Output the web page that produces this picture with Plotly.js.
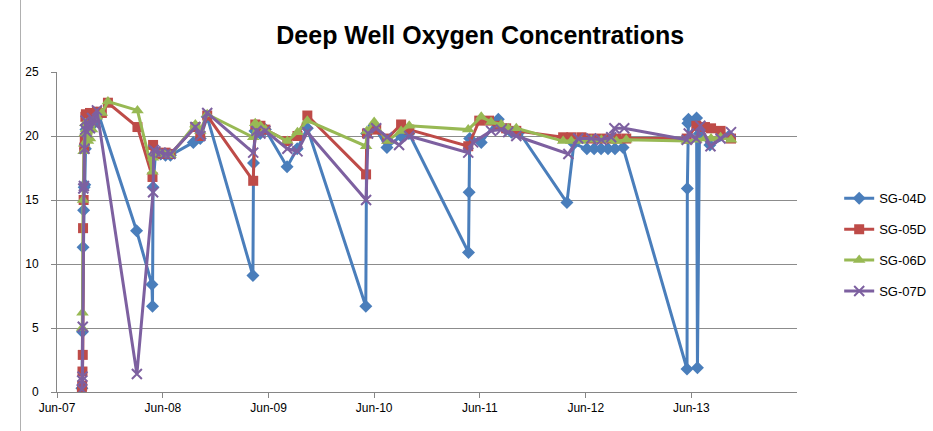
<!DOCTYPE html>
<html>
<head>
<meta charset="utf-8">
<script src="https://cdn.plot.ly/plotly-3.0.1.min.js"></script>
<style>
html,body{margin:0;padding:0;background:#fff;}
#wrap{position:relative;width:933px;height:431px;}
#chart{width:933px;height:431px;}
#edge{position:absolute;left:20px;top:0;width:0;height:431px;border-left:1px solid #b0b0b0;pointer-events:none;}
</style>
</head>
<body>
<div id="wrap"><div id="chart"></div><div id="edge"></div></div>
<script>
// ---- data ----
const sg04Dates = ["2007-08-26","2007-08-28","2007-08-30","2007-09-01","2007-09-03","2007-09-05","2007-09-07","2007-09-09","2007-09-16","2007-09-23","2007-09-30","2007-10-07","2007-10-17","2007-10-24","2008-03-02","2008-04-24","2008-04-26","2008-04-28","2008-05-06","2008-05-24","2008-06-10","2008-06-27","2008-09-14","2008-10-08","2008-11-01","2009-04-08","2009-04-10","2009-04-15","2009-05-03","2009-05-21","2009-08-04","2009-09-08","2009-10-13","2010-05-03","2010-05-06","2010-05-31","2010-07-15","2010-09-01","2010-09-29","2011-04-23","2011-04-25","2011-04-27","2011-06-06","2011-08-04","2011-08-31","2011-09-18","2011-10-15","2012-03-28","2012-04-21","2012-06-05","2012-06-30","2012-07-24","2012-08-17","2012-09-10","2012-10-08","2013-05-17","2013-05-18","2013-05-20","2013-05-22","2013-06-19","2013-06-22","2013-06-29","2013-08-04","2013-10-09"];
const sg04Values = [0.3,4.7,11.3,14.2,16.0,16.2,19.0,20.5,21.2,20.8,21.5,21.0,21.8,21.6,12.6,8.4,6.7,16.0,18.6,18.6,18.5,18.5,19.5,19.8,21.5,9.1,17.9,20.4,20.2,20.5,17.6,19.0,20.6,6.7,20.2,20.8,19.1,20.0,20.2,10.9,15.6,19.8,19.5,21.3,20.5,20.3,20.3,14.8,19.4,19.0,19.0,19.0,19.0,19.0,19.1,1.8,15.9,21.0,21.3,21.4,1.9,20.2,19.3,20.0];

const sg05Dates = ["2007-08-26","2007-08-27","2007-08-28","2007-08-29","2007-08-30","2007-09-01","2007-09-03","2007-09-05","2007-09-07","2007-09-09","2007-09-16","2007-09-23","2007-09-30","2007-10-17","2007-11-03","2007-11-24","2008-03-05","2008-04-26","2008-04-28","2008-05-06","2008-05-24","2008-06-10","2008-06-27","2008-09-21","2008-10-08","2008-11-01","2009-04-09","2009-04-16","2009-05-04","2009-05-21","2009-08-05","2009-09-09","2009-10-13","2010-05-04","2010-05-07","2010-06-08","2010-07-16","2010-09-02","2010-09-30","2011-04-22","2011-05-30","2011-07-03","2011-08-04","2011-08-31","2011-10-05","2012-03-15","2012-04-12","2012-05-17","2012-06-20","2012-07-25","2012-08-28","2012-09-15","2012-10-19","2013-05-16","2013-06-18","2013-07-18","2013-08-08","2013-09-10","2013-10-16"];
const sg05Values = [0.0,0.5,1.6,2.9,12.8,15.0,19.1,19.6,21.5,21.7,21.3,21.8,21.6,21.9,21.8,22.6,20.7,16.8,19.3,18.7,18.6,18.7,18.6,20.7,20.0,21.6,16.5,20.9,20.8,20.5,19.6,20.0,21.6,17.0,20.2,20.5,19.8,20.9,20.5,19.2,21.2,21.2,20.8,20.6,20.4,19.9,19.9,19.9,19.8,19.8,19.8,19.8,19.8,19.8,20.8,20.7,20.6,20.4,19.8];

const sg06Dates = ["2007-08-27","2007-08-28","2007-08-30","2007-09-01","2007-09-03","2007-09-05","2007-09-07","2007-09-09","2007-09-16","2007-09-23","2007-09-30","2007-10-17","2007-11-03","2007-11-24","2008-03-05","2008-04-26","2008-04-28","2008-05-06","2008-05-24","2008-06-10","2008-06-27","2008-09-21","2008-10-08","2008-11-01","2009-04-09","2009-04-16","2009-05-04","2009-05-21","2009-08-05","2009-09-09","2009-10-13","2010-05-04","2010-05-07","2010-06-01","2010-07-16","2010-09-02","2010-09-30","2011-04-22","2011-06-06","2011-07-10","2011-08-14","2011-09-07","2011-10-05","2012-03-15","2012-04-12","2012-05-17","2012-06-20","2012-07-25","2012-08-28","2012-09-15","2012-10-19","2013-05-16","2013-06-18","2013-07-18","2013-08-08","2013-09-10","2013-10-16"];
const sg06Values = [5.0,6.2,15.0,18.8,19.4,20.2,21.0,20.5,19.6,19.8,20.5,21.5,21.8,22.7,22.0,17.2,18.3,18.7,18.6,18.6,18.5,20.9,20.4,21.7,19.9,21.0,20.8,20.5,19.6,20.3,21.2,19.2,20.4,21.1,19.6,20.4,20.8,20.5,21.5,21.1,20.9,20.6,20.6,19.6,19.6,19.6,19.7,19.7,19.7,19.6,19.7,19.6,19.7,19.8,19.8,19.9,19.7];

const sg07Dates = ["2007-08-26","2007-08-27","2007-08-28","2007-08-29","2007-08-31","2007-09-02","2007-09-04","2007-09-06","2007-09-08","2007-09-12","2007-09-16","2007-09-23","2007-09-30","2007-10-07","2007-10-17","2008-03-03","2008-04-28","2008-04-30","2008-05-06","2008-05-24","2008-06-10","2008-06-27","2008-09-21","2008-10-08","2008-11-01","2009-04-09","2009-04-20","2009-05-04","2009-05-21","2009-08-05","2009-09-09","2009-10-13","2010-05-04","2010-05-11","2010-06-08","2010-07-16","2010-08-26","2010-09-30","2011-04-22","2011-05-09","2011-07-10","2011-08-14","2011-09-07","2011-10-05","2012-04-02","2012-05-06","2012-06-20","2012-07-25","2012-08-28","2012-09-08","2012-10-12","2013-05-16","2013-05-23","2013-06-18","2013-07-02","2013-08-06","2013-09-10","2013-10-16"];
const sg07Values = [0.2,0.9,1.2,5.1,15.9,16.1,19.0,20.5,21.2,20.3,21.0,20.6,21.4,21.0,22.0,1.4,15.6,18.9,18.8,18.7,18.6,18.6,20.7,20.0,21.8,18.7,20.4,20.2,20.4,19.0,18.8,20.3,15.0,20.2,20.6,19.9,19.3,20.0,18.7,19.5,20.4,20.5,20.3,20.0,18.6,19.8,19.8,19.7,19.9,20.6,20.6,19.7,20.2,19.8,20.8,19.2,19.8,20.3];

const seriesNames = ["SG-04D","SG-05D","SG-06D","SG-07D"];
const xTickVals = ["2007-06-01","2008-06-01","2009-06-01","2010-06-01","2011-06-01","2012-06-01","2013-06-01"];
const xTickText = ["Jun-07","Jun-08","Jun-09","Jun-10","Jun-11","Jun-12","Jun-13"];
const yTickVals = [0,5,10,15,20,25];
const chartTitle = "Deep Well Oxygen Concentrations";

// ---- styles ----
const colors = ["#4a7ebb","#be4b48","#98b954","#7d60a0"];
const symbols = ["diamond","square","triangle-up","x-thin"];
const sizes = [10,10,11,10];
const allDates = [sg04Dates, sg05Dates, sg06Dates, sg07Dates];
const allValues = [sg04Values, sg05Values, sg06Values, sg07Values];

const traces = seriesNames.map((n,i)=>({
  type:"scatter", mode:"lines+markers", name:n,
  x: allDates[i], y: allValues[i],
  legendgroup: "g"+i,
  line:{color:colors[i], width:3},
  marker:{symbol:symbols[i], size:sizes[i], color:colors[i],
          line: i===3 ? {color:colors[i], width:2} : {width:0}}
}));

const layout = {
  width:933, height:431,
  margin:{l:57, r:136, t:72, b:39, autoexpand:false},
  paper_bgcolor:"#fff", plot_bgcolor:"#fff",
  font:{family:"Liberation Sans Narrow, Liberation Sans, Arial, sans-serif", size:12, color:"#000"},
  title:{text:"<b>"+chartTitle+"</b>", x:0.572, xanchor:"center", xref:"paper", y:0.918, yanchor:"middle",
         font:{family:"Liberation Sans, Arial, sans-serif", size:25, color:"#000"}},
  xaxis:{type:"date", range:["2007-06-01","2014-06-01"], tickvals:xTickVals, ticktext:xTickText,
         showgrid:false, zeroline:false, automargin:false,
         showline:true, linecolor:"#868686", linewidth:1,
         ticks:"outside", ticklen:5, tickcolor:"#868686", tickfont:{size:12}},
  yaxis:{range:[0,25], tickvals:yTickVals, showgrid:true, gridcolor:"#8c8c8c", gridwidth:1,
         zeroline:false, showline:true, linecolor:"#868686", linewidth:1, automargin:false,
         ticks:"outside", ticklen:5, tickcolor:"#868686", ticklabelstandoff:10, tickfont:{size:12}},
  showlegend:true,
  legend:{x:1.057, xanchor:"left", y:0.46, yanchor:"middle", tracegroupgap:11,
          traceorder:"grouped", font:{family:"Liberation Sans Narrow, Liberation Sans, Arial, sans-serif", size:13, color:"#000"},
          itemwidth:30, bgcolor:"rgba(0,0,0,0)"}
};

Plotly.newPlot("chart", traces, layout, {displayModeBar:false, staticPlot:true});
</script>
</body>
</html>
